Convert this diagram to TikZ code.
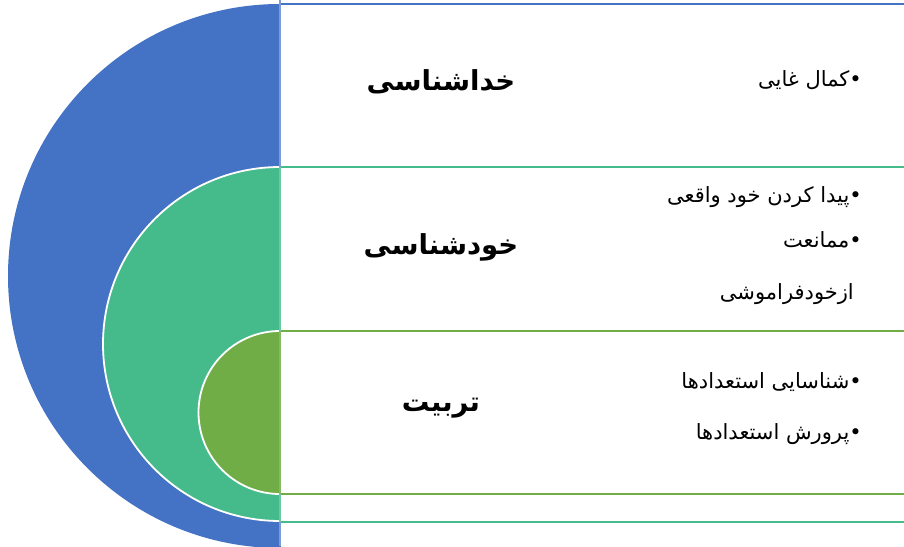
\documentclass[tikz,border=0pt]{standalone}
\usepackage{fontspec}
\TeXXeTstate=1
\newfontfamily\arabicfont[Script=Arabic]{DejaVu Sans}
\definecolor{cblue}{RGB}{68,114,196}
\definecolor{cteal}{RGB}{69,187,140}
\definecolor{cgreen}{RGB}{112,173,71}
\tikzset{
  bandbox/.style={fill=white,line width=1.8pt},
  halfdisc/.style={draw=white,line width=1.8pt},
  titletext/.style={font=\arabicfont\bfseries\fontsize{27.5}{32}\selectfont,anchor=center},
  itemtext/.style={font=\arabicfont\fontsize{21}{25}\selectfont,anchor=east,inner sep=0pt}
}
\begin{document}
\begin{tikzpicture}[x=1pt,y=-1pt]
\useasboundingbox (0,0) rectangle (904,546);
\clip (0,0) rectangle (904,546);
% blue layer
\draw[bandbox,draw=cblue] (280,4) rectangle (930,549);
\fill[cblue] (280,4) arc[start angle=270,end angle=90,radius=272] -- cycle;
% teal layer
\draw[bandbox,draw=cteal] (280,167) rectangle (930,522);
\filldraw[halfdisc,fill=cteal] (280,167) arc[start angle=270,end angle=90,radius=177] -- cycle;
% green layer
\draw[bandbox,draw=cgreen] (280,331) rectangle (930,494);
\filldraw[halfdisc,fill=cgreen] (280,331) arc[start angle=270,end angle=90,radius=81.5] -- cycle;
\draw[cblue!70,line width=1.8pt] (280,0) -- (280,167);
\draw[cblue!70,line width=1.8pt] (280,522) -- (280,546);
\draw[cteal!80,line width=1.8pt] (280,167) -- (280,331);
\draw[cteal!80,line width=1.8pt] (280,494) -- (280,522);
\draw[cgreen!85,line width=1.8pt] (280,331) -- (280,494);
% titles
\node[titletext] (t1) at (441,82) {\beginR خداشناسی\endR};
\node[titletext] (t2) at (441,247) {\beginR خودشناسی\endR};
\node[titletext] (t3) at (441,408) {\beginR تربیت\endR};
% items
\node[itemtext] (i1) at (862,80) {\beginR •کمال غایی\endR};
\node[itemtext] (i2) at (862,197) {\beginR •پیدا کردن خود واقعی\endR};
\node[itemtext] (i3) at (862,240) {\beginR •ممانعت\endR};
\node[itemtext] (i4) at (854,294) {\beginR ازخودفراموشی\endR};
\node[itemtext] (i5) at (862,382) {\beginR •شناسایی استعدادها\endR};
\node[itemtext] (i6) at (862,434) {\beginR •پرورش استعدادها\endR};
\end{tikzpicture}
\end{document}
